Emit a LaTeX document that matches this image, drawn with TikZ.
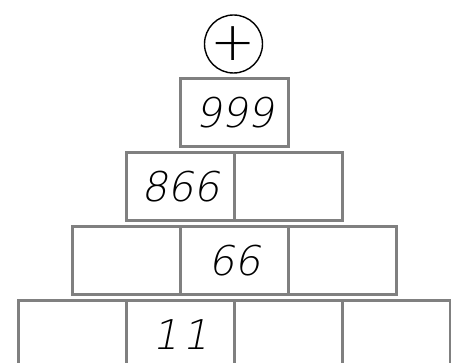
\documentclass[tikz,border=0pt]{standalone}
\usepackage{fontspec}
\usepackage{tikz}
\usetikzlibrary{positioning}
\newfontfamily\handfont[FakeSlant=0.2]{DejaVu Sans ExtraLight}
\newfontfamily\opfont{DejaVu Sans ExtraLight}

\begin{document}
\begin{tikzpicture}[
        x=1pt, y=-1pt,
        cell/.style={rectangle, draw=gray, line width=3pt, minimum width=108pt, minimum height=68pt, inner sep=0pt,
          font=\handfont\fontsize{41}{41}\selectfont},
        op/.style={circle, draw, line width=1.4pt, minimum size=58pt, inner sep=0pt,
          font=\opfont\fontsize{54}{54}\selectfont}
      ]
      \useasboundingbox (0,0) rectangle (451,363);
      \node[op] (plus) at (233.5,44) {+};
      \node[cell] (b11) at (234.5,113) {999};
      \node[cell] (b21) at (180.5,187) {866};
      \node[cell] (b22) at (288.5,187) {};
      \node[cell] (b31) at (126.5,261) {};
      \node[cell] (b32) at (234.5,261) {66};
      \node[cell] (b33) at (342.5,261) {};
      \node[cell] (b41) at (72.5,335) {};
      \node[cell] (b42) at (180.5,335) {1\kern4pt1};
      \node[cell] (b43) at (288.5,335) {};
      \node[cell] (b44) at (396.5,335) {};
    \end{tikzpicture}
\end{document}
